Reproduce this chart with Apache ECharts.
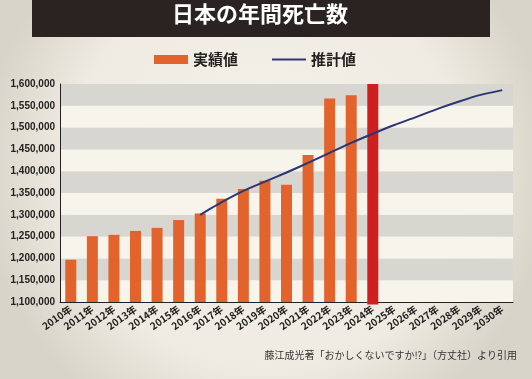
<!DOCTYPE html>
<html><head><meta charset="utf-8">
<script src="https://cdn.jsdelivr.net/npm/echarts@6/dist/echarts.min.js"></script>
<style>html,body{margin:0;padding:0;background:#efece4}#c{width:532px;height:379px}</style>
</head><body><div id="c"></div>
<script>
const categories = ['2010年','2011年','2012年','2013年','2014年','2015年','2016年','2017年','2018年','2019年','2020年','2021年','2022年','2023年','2024年','2025年','2026年','2027年','2028年','2029年','2030年'];
const actualValues = [1197000,1251000,1254000,1263000,1270000,1288000,1303000,1337000,1359000,1378000,1369000,1437000,1567000,1574000,1600000];
const projectedValues = [null,null,null,null,null,null,1300000,1329000,1355000,1376000,1397000,1419000,1442000,1465000,1486000,1506000,1524000,1543000,1560000,1575000,1586000];
const highlightIndex = 14;

const FONT = '"Noto Sans CJK JP", "Noto Sans", sans-serif';
const chart = echarts.init(document.getElementById('c'));
chart.setOption({
  backgroundColor: {type:'radial', x:0.5, y:0.45, r:0.75, colorStops:[{offset:0,color:'#f5f2ea'},{offset:0.7,color:'#efebe2'},{offset:1,color:'#d9d4c9'}]},
  textStyle:{fontFamily:FONT},
  graphic:[{type:'rect', shape:{x:32,y:0,width:458,height:37}, style:{fill:'#2a2321'}, z:-1}],
  title:[
    {text:'日本の年間死亡数', left:172, top:3, padding:0, textStyle:{color:'#ffffff', fontSize:22, fontWeight:'bold', fontFamily:FONT}},
    {text:'藤江成光著「おかしくないですか⁉」（方丈社）より引用', right:15, top:350, padding:0, textStyle:{color:'#333', fontSize:10, fontWeight:'normal', fontFamily:FONT}}
  ],
  legend:{
    top:52, left:154, padding:0, itemWidth:34, itemHeight:9, itemGap:33,
    textStyle:{fontSize:15, fontWeight:'bold', color:'#222', fontFamily:FONT},
    data:[{name:'実績値', icon:'rect'}, {name:'推計値', itemStyle:{opacity:0}}]
  },
  grid:{left:60, right:19, top:84, bottom:77},
  xAxis:{
    type:'category', data:categories,
    axisLine:{lineStyle:{color:'#222', width:1}},
    axisTick:{show:false},
    axisLabel:{rotate:35, fontSize:10, fontWeight:'bold', color:'#222', margin:6, interval:0, fontFamily:FONT}
  },
  yAxis:{
    type:'value', min:1100000, max:1600000, interval:50000,
    axisLine:{show:true, lineStyle:{color:'#222', width:1}},
    axisTick:{show:false},
    splitLine:{show:false},
    splitArea:{show:true, areaStyle:{color:['#f7f4ec','#d8d6d0']}},
    axisLabel:{fontSize:10, color:'#222', margin:5, fontFamily:'"Liberation Sans", sans-serif', fontWeight:'bold'}
  },
  series:[
    {name:'実績値', type:'bar', barWidth:11, z:2,
     itemStyle:{color:'#e2632b'},
     data: actualValues.map((v,i)=> i===highlightIndex ? {value:v, itemStyle:{color:'#cf1f1f', borderColor:'#cf1f1f', borderWidth:5}} : v)},
    {name:'推計値', type:'line', symbol:'circle', showSymbol:false, z:3, smooth:0.2,
     lineStyle:{color:'#283676', width:2},
     itemStyle:{color:'#283676'},
     data: projectedValues}
  ]
});
</script></body></html>
